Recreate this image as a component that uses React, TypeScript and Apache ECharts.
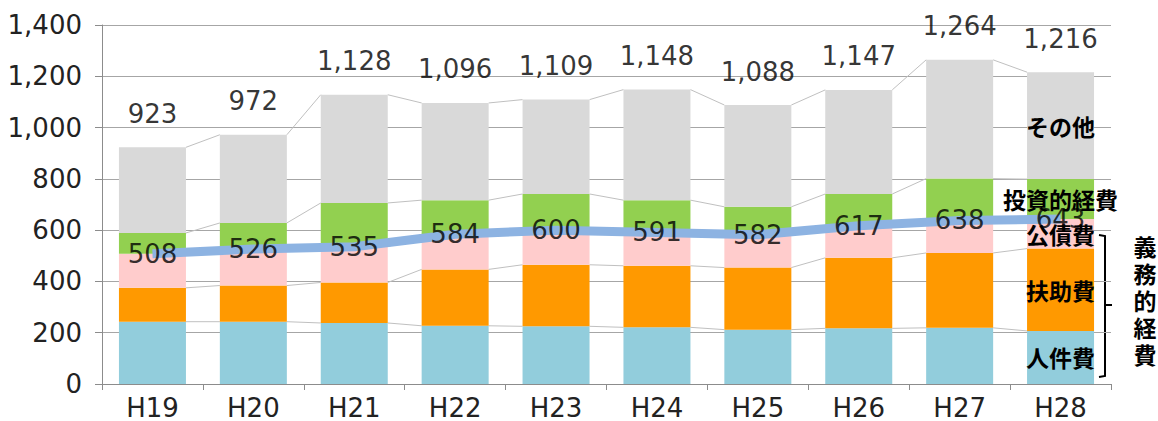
import React, { useEffect, useRef } from "react";
import * as echarts from "echarts";

const categories = ["H19", "H20", "H21", "H22", "H23", "H24", "H25", "H26", "H27", "H28"];
const personnel = [243, 243, 238, 227, 225, 221, 212, 217, 219, 207];
const assistance = [132, 141, 158, 220, 240, 240, 242, 275, 292, 321];
const debt = [133, 142, 139, 137, 135, 130, 128, 125, 127, 115];
const investment = [81, 102, 171, 133, 141, 126, 109, 124, 163, 156];
const other = [334, 344, 422, 379, 368, 431, 397, 406, 463, 417];
const mandatory = [508, 526, 535, 584, 600, 591, 582, 617, 638, 643];
const totals = [923, 972, 1128, 1096, 1109, 1148, 1088, 1147, 1264, 1216];
const yTicks = [0, 200, 400, 600, 800, 1000, 1200, 1400];

const seriesNames = ["人件費", "扶助費", "公債費", "投資的経費", "その他"];
const seriesColors = ["#92cddc", "#ff9900", "#ffcccc", "#92d050", "#d9d9d9"];
const bracketTitle = "義務的経費";

const NUM_FONT = "DejaVu Sans";
const JP_FONT = "Noto Sans CJK JP";
const BAR_W = 67;

export default function App() {
  const ref = useRef<HTMLDivElement>(null);
  useEffect(() => {
    if (!ref.current) return;
    const chart = echarts.init(ref.current, null, { renderer: "svg" });
    const stacks = [personnel, assistance, debt, investment, other];
    const last = categories.length - 1;

    const barSeries = stacks.map((arr, k) => ({
      type: "bar",
      name: seriesNames[k],
      stack: "total",
      barWidth: BAR_W,
      itemStyle: { color: seriesColors[k] },
      z: 2,
      data: arr.map((v, i) =>
        i === last
          ? {
              value: v,
              label: {
                show: true,
                position: "inside",
                formatter: seriesNames[k],
                fontFamily: JP_FONT,
                fontSize: 23,
                fontWeight: "bold",
                color: "#000",
                overflow: "none",
              },
            }
          : v
      ),
    }));

    // cumulative levels for connector lines
    const cum: number[][] = [];
    stacks.forEach((arr, k) => {
      cum.push(arr.map((v, i) => (k === 0 ? v : cum[k - 1][i] + v)));
    });
    const connectorData: number[][] = [];
    cum.forEach((lvl) => {
      for (let i = 0; i < lvl.length - 1; i++) {
        connectorData.push([i, lvl[i], lvl[i + 1]]);
      }
    });

    const option: any = {
      animation: false,
      grid: { left: 102, right: 47, top: 25, bottom: 35.5, containLabel: false },
      xAxis: {
        type: "category",
        data: categories,
        axisLine: { lineStyle: { color: "#8c8c8c", width: 1 } },
        axisTick: { show: true, length: 6, lineStyle: { color: "#8c8c8c" } },
        axisLabel: { fontFamily: NUM_FONT, fontSize: 26, color: "#222", margin: 11 },
      },
      yAxis: {
        type: "value",
        min: yTicks[0],
        max: yTicks[yTicks.length - 1],
        interval: 200,
        axisLine: { show: true, lineStyle: { color: "#8c8c8c", width: 1 } },
        axisTick: { show: true, length: 7, lineStyle: { color: "#8c8c8c" } },
        splitLine: { lineStyle: { color: "#a6a6a6", width: 1 } },
        axisLabel: {
          fontFamily: NUM_FONT,
          fontSize: 26,
          color: "#222",
          margin: 20,
          formatter: (v: number) => v.toLocaleString("en-US"),
        },
      },
      series: [
        {
          type: "custom",
          z: 1,
          silent: true,
          data: connectorData,
          renderItem: (params: any, api: any) => {
            const i = api.value(0);
            const p0 = api.coord([i, api.value(1)]);
            const p1 = api.coord([i + 1, api.value(2)]);
            const hw = BAR_W / 2;
            return {
              type: "line",
              shape: { x1: p0[0] + hw, y1: p0[1], x2: p1[0] - hw, y2: p1[1] },
              style: { stroke: "#c0c0c0", lineWidth: 1 },
            };
          },
        },
        ...barSeries,
        {
          type: "line",
          name: bracketTitle,
          data: mandatory,
          z: 5,
          symbol: "none",
          lineStyle: { color: "#8db3e2", width: 9 },
        },
        {
          type: "scatter",
          data: mandatory,
          symbolSize: 1,
          itemStyle: { color: "transparent" },
          z: 6,
          label: {
            show: true,
            position: "inside",
            fontFamily: NUM_FONT,
            fontSize: 26,
            color: "#000",
          },
        },
        {
          type: "scatter",
          data: totals,
          symbolSize: 1,
          itemStyle: { color: "transparent" },
          z: 6,
          label: {
            show: true,
            position: "top",
            distance: 20,
            fontFamily: NUM_FONT,
            fontSize: 26,
            color: "#000",
            formatter: (p: any) => Number(p.value).toLocaleString("en-US"),
          },
        },
      ],
      graphic: [
        {
          type: "polyline",
          shape: { points: [[1099, 235], [1105, 236], [1105, 376], [1099, 377]] },
          style: { stroke: "#000", lineWidth: 2, fill: "none" },
        },
        {
          type: "line",
          shape: { x1: 1105, y1: 305, x2: 1112, y2: 305 },
          style: { stroke: "#000", lineWidth: 2 },
        },
        {
          type: "text",
          x: 1145,
          y: 232,
          style: {
            text: bracketTitle.split("").join("\n"),
            fontFamily: JP_FONT,
            fontSize: 23,
            fontWeight: "bold",
            lineHeight: 27,
            fill: "#000",
            align: "center",
            verticalAlign: "top",
          },
        },
      ],
    };
    chart.setOption(option);
    return () => chart.dispose();
  }, []);
  return (
    <div
      ref={ref}
      style={{ position: "absolute", left: 0, top: 0, width: 1158, height: 421 }}
    />
  );
}
